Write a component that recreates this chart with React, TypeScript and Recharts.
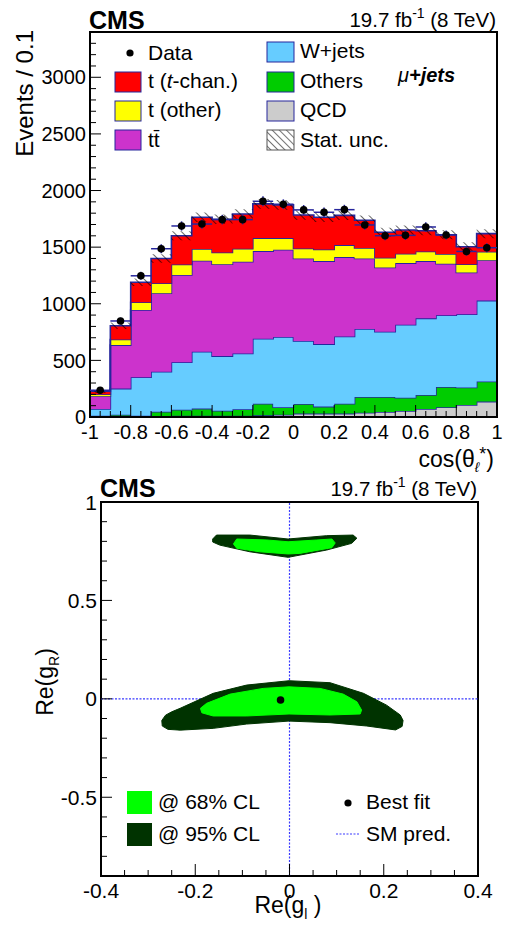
import React from "react";
import {
  ComposedChart,
  ScatterChart,
  Area,
  Scatter,
  ErrorBar,
  XAxis,
  YAxis,
  ReferenceArea,
  ReferenceLine,
} from "recharts";

const FONT = "'Liberation Sans', Arial, Helvetica, sans-serif";
const NAVY = "#26269c";
const SM_BLUE = "#3a3aff";

// ---------- top panel: cos(theta_l*) stacked histogram ----------
const binEdges = [-1, -0.9, -0.8, -0.7, -0.6, -0.5, -0.4, -0.3, -0.2, -0.1, 0, 0.1, 0.2, 0.3, 0.4, 0.5, 0.6, 0.7, 0.8, 0.9, 1];

const qcd = [5, 5, 5, 5, 10, 10, 10, 10, 15, 20, 30, 30, 30, 38, 44, 53, 71, 86, 106, 136];
const others = [5, 15, 7, 42, 55, 64, 46, 58, 103, 66, 85, 62, 88, 139, 133, 118, 124, 180, 154, 177];
const wjets = [61, 231, 340, 352, 419, 502, 482, 493, 573, 620, 556, 552, 594, 600, 576, 644, 676, 632, 647, 715];
const ttbar = [112, 384, 593, 694, 771, 804, 812, 810, 774, 771, 729, 733, 700, 623, 567, 544, 506, 455, 369, 357];
const tOther = [18, 50, 68, 89, 92, 103, 103, 115, 115, 103, 89, 103, 106, 92, 86, 83, 85, 86, 74, 74];
const tChan = [26, 121, 177, 218, 254, 281, 293, 307, 302, 293, 295, 284, 263, 245, 225, 209, 183, 171, 154, 160];
const statUnc = [14, 28, 34, 37, 40, 42, 42, 42, 43, 43, 42, 42, 42, 42, 40, 41, 41, 40, 39, 40];

const dataCounts = [236, 848, 1247, 1486, 1687, 1704, 1743, 1743, 1905, 1879, 1829, 1808, 1831, 1696, 1601, 1604, 1678, 1607, 1462, 1495];
const dataErr = [15, 29, 35, 39, 41, 41, 42, 42, 44, 43, 43, 43, 43, 41, 40, 40, 41, 40, 38, 39];

const topXLabels = [-1, -0.8, -0.6, -0.4, -0.2, 0, 0.2, 0.4, 0.6, 0.8, 1];
const topYLabels = [0, 500, 1000, 1500, 2000, 2500, 3000];

const layers = [
  { key: "qcd", color: "#cccccc" },
  { key: "others", color: "#00cc00" },
  { key: "wjets", color: "#66ccff" },
  { key: "ttbar", color: "#cc33cc" },
  { key: "tOther", color: "#ffff00" },
  { key: "tChan", color: "#ff0000" },
];

const stackRows = binEdges.map((x, i) => {
  const k = Math.min(i, binEdges.length - 2);
  const total = qcd[k] + others[k] + wjets[k] + ttbar[k] + tOther[k] + tChan[k];
  return {
    x,
    qcd: qcd[k],
    others: others[k],
    wjets: wjets[k],
    ttbar: ttbar[k],
    tOther: tOther[k],
    tChan: tChan[k],
    unc: [total - statUnc[k], total + statUnc[k]],
  };
});

const dataRows = dataCounts.map((y, i) => ({
  x: (binEdges[i] + binEdges[i + 1]) / 2,
  y,
  ex: (binEdges[i + 1] - binEdges[i]) / 2,
  ey: dataErr[i],
}));

// ---------- bottom panel: Re(gL) vs Re(gR) contours ----------
const cl95Upper: [number, number][] = [
  [-0.163, 0.812], [-0.155, 0.832], [-0.084, 0.832], [-0.003, 0.812], [0.079, 0.829], [0.135, 0.832],
  [0.143, 0.816], [0.132, 0.79], [0.079, 0.756], [-0.003, 0.719], [-0.084, 0.747], [-0.148, 0.781], [-0.163, 0.797],
];
const cl68Upper: [number, number][] = [
  [-0.119, 0.787], [-0.112, 0.812], [-0.048, 0.807], [-0.003, 0.798], [0.058, 0.807], [0.09, 0.812],
  [0.097, 0.792], [0.09, 0.768], [0.022, 0.739], [-0.003, 0.736], [-0.063, 0.747], [-0.112, 0.765],
];
const cl95Lower: [number, number][] = [
  [-0.271, -0.11], [-0.263, -0.083], [-0.25, -0.066], [-0.232, -0.048], [-0.162, 0.028], [-0.091, 0.07],
  [-0.001, 0.092], [0.086, 0.082], [0.157, 0.028], [0.206, -0.032], [0.235, -0.082], [0.241, -0.11],
  [0.239, -0.14], [0.225, -0.158], [0.164, -0.138], [0.086, -0.121], [-0.001, -0.113], [-0.091, -0.128],
  [-0.162, -0.15], [-0.232, -0.159], [-0.258, -0.155], [-0.27, -0.138],
];
const cl68Lower: [number, number][] = [
  [-0.189, -0.048], [-0.176, -0.023], [-0.126, 0.024], [-0.056, 0.053], [-0.001, 0.061], [0.065, 0.053],
  [0.114, 0.024], [0.143, -0.015], [0.153, -0.057], [0.15, -0.077], [0.086, -0.082], [-0.001, -0.077],
  [-0.091, -0.087], [-0.162, -0.087], [-0.186, -0.071],
];
const bestFit = [{ x: -0.019, y: -0.006 }];

const botXLabels = [-0.4, -0.2, 0, 0.2, 0.4];
const botYLabels = [-0.5, 0, 0.5, 1];

const toXY = (pts: [number, number][]) => pts.map(([x, y]) => ({ x, y }));

const steps = (lo: number, hi: number, step: number) => {
  const out: number[] = [];
  const n = Math.round((hi - lo) / step);
  for (let i = 0; i <= n; i++) out.push(Math.round((lo + i * step) * 1000) / 1000);
  return out;
};
const isMajor = (v: number, list: number[]) => list.some((m) => Math.abs(m - v) < 1e-6);

const makeYTick = (labels: number[], size: number) => (p: any) => {
  const v = p.payload.value;
  const major = isMajor(v, labels);
  return (
    <g>
      <line x1={p.x} x2={p.x + (major ? 11 : 6)} y1={p.y} y2={p.y} stroke="#000" strokeWidth={1} />
      {major && (
        <text x={p.x - 4} y={p.y} dy="0.36em" textAnchor="end" fontSize={size} fontFamily={FONT} fill="#000">
          {String(v)}
        </text>
      )}
    </g>
  );
};

const makeXTick = (labels: number[], size: number) => (p: any) => {
  const v = p.payload.value;
  const major = isMajor(v, labels);
  return (
    <g>
      <line x1={p.x} x2={p.x} y1={p.y} y2={p.y - (major ? 12 : 6)} stroke="#000" strokeWidth={1} />
      {major && (
        <text x={p.x} y={p.y + 22} textAnchor="middle" fontSize={size} fontFamily={FONT} fill="#000">
          {String(v)}
        </text>
      )}
    </g>
  );
};

const noShape = () => <g />;
const blackDot = (p: any) => <circle cx={p.cx} cy={p.cy} r={3.8} fill="#000" />;

// dotted blue SM line, drawn from the coordinates the reference line computes
const smLine = (p: any) => (
  <line x1={p.x1} y1={p.y1} x2={p.x2} y2={p.y2} stroke={SM_BLUE} strokeWidth={1.2} strokeDasharray="2 1.5" />
);

function TopPanel() {
  return (
    <ComposedChart width={505} height={475} data={stackRows} margin={{ top: 32, right: 8, bottom: 0, left: 0 }}>
      <defs>
        <pattern id="hatch" patternUnits="userSpaceOnUse" width={6} height={6} patternTransform="rotate(-45)">
          <line x1={0} y1={0} x2={0} y2={6} stroke="#000" strokeWidth={1.2} />
        </pattern>
      </defs>
      {layers.map((l) => (
        <Area
          key={l.key}
          type="stepAfter"
          dataKey={l.key}
          stackId="mc"
          fill={l.color}
          fillOpacity={1}
          stroke={NAVY}
          strokeWidth={1.6}
          isAnimationActive={false}
        />
      ))}
      <Area type="stepAfter" dataKey="unc" fill="url(#hatch)" fillOpacity={1} stroke="none" isAnimationActive={false} />
      <Scatter data={dataRows} dataKey="y" shape={blackDot} isAnimationActive={false}>
        <ErrorBar dataKey="ey" direction="y" width={0} stroke={NAVY} strokeWidth={1.5} />
        <ErrorBar dataKey="ex" direction="x" width={0} stroke={NAVY} strokeWidth={1.5} />
      </Scatter>
      <XAxis
        type="number"
        dataKey="x"
        domain={[-1, 1]}
        ticks={steps(-1, 1, 0.05)}
        interval={0}
        tick={makeXTick(topXLabels, 20)}
        tickLine={false}
        axisLine={false}
        tickSize={0}
        tickMargin={0}
        height={58}
        allowDataOverflow
      />
      <YAxis
        type="number"
        domain={[0, 3400]}
        ticks={steps(0, 3400, 100)}
        interval={0}
        tick={makeYTick(topYLabels, 20)}
        tickLine={false}
        axisLine={false}
        tickSize={0}
        tickMargin={0}
        width={90}
        allowDataOverflow
      />
      <ReferenceArea x1={-1} x2={1} y1={0} y2={3400} fill="none" stroke="#000" strokeWidth={2} ifOverflow="visible" />
    </ComposedChart>
  );
}

function BottomPanel() {
  const band = (pts: [number, number][], color: string, name: string) => (
    <Scatter
      name={name}
      data={toXY(pts)}
      dataKey="y"
      line={{ fill: color, stroke: color, strokeWidth: 1 }}
      lineJointType="linearClosed"
      shape={noShape}
      isAnimationActive={false}
    />
  );
  return (
    <ScatterChart width={505} height={457} margin={{ top: 32, right: 27, bottom: 0, left: 0 }}>
      {band(cl95Upper, "#003300", "95u")}
      {band(cl95Lower, "#003300", "95l")}
      {band(cl68Upper, "#00ff00", "68u")}
      {band(cl68Lower, "#00ff00", "68l")}
      {/* SM prediction: dotted blue cross at the origin */}
      <ReferenceLine x={0} shape={smLine} />
      <ReferenceLine y={0} shape={smLine} />
      <Scatter data={bestFit} dataKey="y" shape={blackDot} isAnimationActive={false} />
      <XAxis
        type="number"
        dataKey="x"
        domain={[-0.4, 0.4]}
        ticks={steps(-0.4, 0.4, 0.05)}
        interval={0}
        tick={makeXTick(botXLabels, 21)}
        tickLine={false}
        axisLine={false}
        tickSize={0}
        tickMargin={0}
        height={51}
        allowDataOverflow
      />
      <YAxis
        type="number"
        dataKey="y"
        domain={[-0.9, 1]}
        ticks={steps(-0.9, 1, 0.1)}
        interval={0}
        tick={makeYTick(botYLabels, 21)}
        tickLine={false}
        axisLine={false}
        tickSize={0}
        tickMargin={0}
        width={101}
        allowDataOverflow
      />
      <ReferenceArea x1={-0.4} x2={0.4} y1={-0.9} y2={1} fill="none" stroke="#000" strokeWidth={2} ifOverflow="visible" />
    </ScatterChart>
  );
}

function Overlay() {
  const t = { fontFamily: FONT, fill: "#000" } as const;
  const box = (x: number, y: number, w: number, h: number, fill: string) => (
    <rect x={x} y={y} width={w} height={h} fill={fill} stroke={NAVY} strokeWidth={1} />
  );
  return (
    <svg width={505} height={927} style={{ position: "absolute", left: 0, top: 0, pointerEvents: "none" }}>
      <defs>
        <pattern id="hatchLeg" patternUnits="userSpaceOnUse" width={5} height={5} patternTransform="rotate(-45)">
          <line x1={0} y1={0} x2={0} y2={5} stroke="#000" strokeWidth={1.1} />
        </pattern>
      </defs>
      {/* top panel headers */}
      <text x={89} y={29} fontSize={25} fontWeight="bold" {...t}>CMS</text>
      <text x={496} y={27} fontSize={20.5} textAnchor="end" {...t}>
        19.7 fb<tspan fontSize={14} dy={-9}>-1</tspan>
        <tspan dy={9}> (8 TeV)</tspan>
      </text>
      <text transform="translate(33,30) rotate(-90)" textAnchor="end" fontSize={24} {...t}>Events / 0.1</text>
      <text x={494} y={467} textAnchor="end" fontSize={23} {...t}>
        cos(θ<tspan fontSize={14} fontStyle="italic" dy={5}>ℓ</tspan>
        <tspan fontSize={18} dy={-12}>*</tspan>
        <tspan dy={7}>)</tspan>
      </text>

      {/* top legend */}
      <circle cx={130} cy={53} r={3.6} fill="#000" />
      <text x={148} y={60} fontSize={21} {...t}>Data</text>
      {box(115, 72, 26, 20, "#ff0000")}
      <text x={148} y={88} fontSize={21} {...t}>
        t (<tspan fontStyle="italic">t</tspan>-chan.)
      </text>
      {box(115, 101, 26, 20, "#ffff00")}
      <text x={148} y={117} fontSize={21} {...t}>t (other)</text>
      {box(115, 130, 26, 20, "#cc33cc")}
      <text x={148} y={147} fontSize={21} {...t}>t{"t\u0304"}</text>

      {box(267, 42, 27, 20, "#66ccff")}
      <text x={300} y={58} fontSize={21} {...t}>W+jets</text>
      {box(267, 72, 27, 20, "#00cc00")}
      <text x={300} y={88} fontSize={21} {...t}>Others</text>
      {box(267, 101, 27, 20, "#cccccc")}
      <text x={300} y={117} fontSize={21} {...t}>QCD</text>
      <rect x={267} y={130} width={27} height={20} fill="url(#hatchLeg)" stroke="#555" strokeWidth={1} />
      <text x={300} y={147} fontSize={21} {...t}>Stat. unc.</text>
      <text x={398} y={82} fontSize={20} {...t}>
        <tspan fontStyle="italic">μ</tspan>
        <tspan fontStyle="italic" fontWeight="bold">+jets</tspan>
      </text>

      {/* bottom panel headers */}
      <text x={100} y={497} fontSize={25} fontWeight="bold" {...t}>CMS</text>
      <text x={477} y={496} fontSize={20.5} textAnchor="end" {...t}>
        19.7 fb<tspan fontSize={14} dy={-9}>-1</tspan>
        <tspan dy={9}> (8 TeV)</tspan>
      </text>
      <text transform="translate(53,682) rotate(-90)" textAnchor="middle" fontSize={23} {...t}>
        Re(g<tspan fontSize={14} dy={6}>R</tspan>
        <tspan dy={-6}>)</tspan>
      </text>
      <text x={288} y={913} textAnchor="middle" fontSize={23} {...t}>
        Re(g<tspan fontSize={14} dy={6}>l</tspan>
        <tspan dy={-6}> )</tspan>
      </text>

      {/* bottom legend */}
      <rect x={127} y={791} width={25} height={23} fill="#00ff00" />
      <text x={158} y={809} fontSize={21} {...t}>@ 68% CL</text>
      <rect x={127} y={823} width={25} height={23} fill="#003300" />
      <text x={158} y={841} fontSize={21} {...t}>@ 95% CL</text>
      <circle cx={348} cy={803} r={3.6} fill="#000" />
      <text x={366} y={809} fontSize={21} {...t}>Best fit</text>
      <line x1={336} x2={359} y1={834} y2={834} stroke={SM_BLUE} strokeWidth={1.2} strokeDasharray="2 1.5" />
      <text x={366} y={841} fontSize={21} {...t}>SM pred.</text>
    </svg>
  );
}

export default function App() {
  return (
    <div style={{ position: "absolute", left: 0, top: 0, width: 505, height: 927, background: "#fff" }}>
      <div style={{ position: "absolute", left: 0, top: 0 }}>
        <TopPanel />
      </div>
      <div style={{ position: "absolute", left: 0, top: 470 }}>
        <BottomPanel />
      </div>
      <Overlay />
    </div>
  );
}
